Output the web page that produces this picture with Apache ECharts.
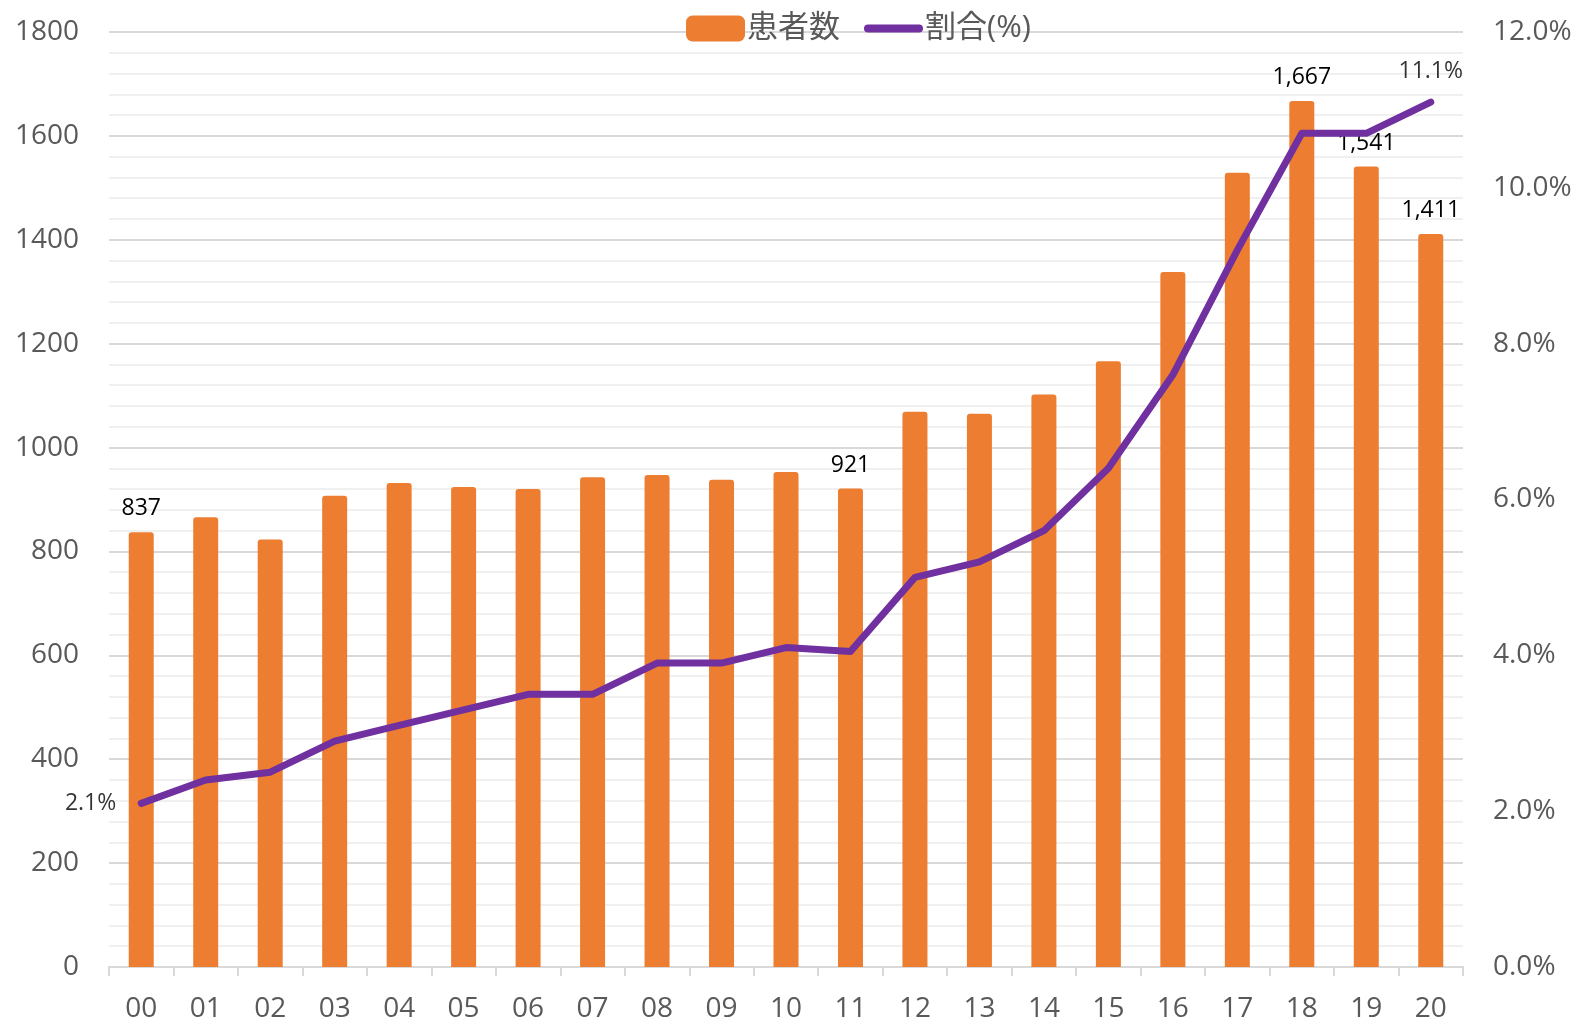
<!DOCTYPE html>
<html>
<head>
<meta charset="utf-8">
<script src="https://cdn.jsdelivr.net/npm/echarts@6/dist/echarts.min.js"></script>
<style>
  html, body { margin: 0; padding: 0; background: #fff; }
  #chart { width: 1577px; height: 1023px; }
</style>
</head>
<body>
<div id="chart"></div>
<script>
const years = ['00', '01', '02', '03', '04', '05', '06', '07', '08', '09', '10',
  '11', '12', '13', '14', '15', '16', '17', '18', '19', '20']
const patients = [837, 866, 823, 907, 932, 924, 920, 943, 947, 938, 953,
  921, 1069, 1065, 1102, 1166, 1338, 1529, 1667, 1541, 1411]
const ratio = [2.1, 2.4, 2.5, 2.9, 3.1, 3.3, 3.5, 3.5, 3.9, 3.9, 4.1,
  4.05, 5.0, 5.2, 5.6, 6.4, 7.6, 9.2, 10.7, 10.7, 11.1]
// which points carry a value label
const barLabelIdx = [0, 11, 18, 19, 20]
const lineLabelIdx = [0, 20]

const FONT = "'Open Sans', 'Noto Sans CJK JP', sans-serif"
const GREY = '#595959'

const chart = echarts.init(document.getElementById('chart'))

const barData = patients.map((v, i) => {
  if (barLabelIdx.indexOf(i) < 0) return v
  return { value: v, label: { show: true } }
})
// labels for the line go on a helper series (line has no symbols)
const lineLabelData = ratio.map((v, i) => {
  if (lineLabelIdx.indexOf(i) < 0) return '-'
  return {
    value: v,
    label: { show: true, position: i === 0 ? 'left' : 'top', distance: i === 0 ? 24 : 18 }
  }
})

const option = {
  animation: false,
  textStyle: { fontFamily: FONT },
  legend: {
    top: 8,
    left: 681,
    itemWidth: 59,
    itemHeight: 26,
    itemGap: 24,
    textStyle: { fontSize: 31, color: GREY, fontFamily: FONT, padding: [0, 0, 0, -3] },
    data: [
      { name: '患者数', icon: 'roundRect' },
      { name: '割合(%)', icon: 'path://M4,0L55,0A4,4,0,0,1,55,8L4,8A4,4,0,0,1,4,0Z' }
    ]
  },
  grid: {
    left: 109,
    right: 114,
    top: 32,
    bottom: 55
  },
  xAxis: {
    type: 'category',
    data: years,
    axisLine: { lineStyle: { color: '#d9d9d9', width: 2 } },
    axisTick: { show: true, length: 9, lineStyle: { color: '#d9d9d9', width: 2 } },
    axisLabel: { color: GREY, fontSize: 28, margin: 28, fontFamily: FONT }
  },
  yAxis: [
    {
      type: 'value',
      min: 0,
      max: 1800,
      interval: 200,
      axisLine: { show: false },
      axisTick: { show: false },
      axisLabel: { color: GREY, fontSize: 28, margin: 30, fontFamily: FONT, formatter: v => String(v) },
      splitLine: { lineStyle: { color: '#d9d9d9', width: 2 } },
      minorTick: { show: false, splitNumber: 5 },
      minorSplitLine: { show: true, lineStyle: { color: '#f0f0f0', width: 2 } }
    },
    {
      type: 'value',
      min: 0,
      max: 12,
      interval: 2,
      axisLine: { show: false },
      axisTick: { show: false },
      splitLine: { show: false },
      axisLabel: {
        color: GREY,
        fontSize: 28,
        margin: 30,
        fontFamily: FONT,
        formatter: v => v.toFixed(1) + '%'
      }
    }
  ],
  series: [
    {
      name: '患者数',
      type: 'bar',
      data: barData,
      barWidth: 25,
      itemStyle: { color: '#ED7D31', borderRadius: [3, 3, 0, 0] },
      label: {
        show: false,
        position: 'top',
        distance: 12,
        color: '#000',
        fontSize: 23,
        fontFamily: FONT,
        formatter: p => p.value.toLocaleString('en-US')
      },
      z: 2
    },
    {
      name: '割合(%)',
      type: 'line',
      yAxisIndex: 1,
      data: ratio,
      symbol: 'none',
      lineStyle: { color: '#7030A0', width: 7, cap: 'round', join: 'round' },
      itemStyle: { color: '#7030A0' },
      z: 3
    },
    {
      name: 'ratioLabels',
      type: 'scatter',
      yAxisIndex: 1,
      data: lineLabelData,
      symbolSize: 2,
      itemStyle: { color: 'rgba(0,0,0,0)' },
      label: {
        show: false,
        color: '#000',
        fontSize: 23,
        fontFamily: FONT,
        formatter: p => p.value.toFixed(1) + '%'
      },
      emphasis: { disabled: true },
      silent: true,
      z: 4
    }
  ]
}

chart.setOption(option)
</script>
</body>
</html>
